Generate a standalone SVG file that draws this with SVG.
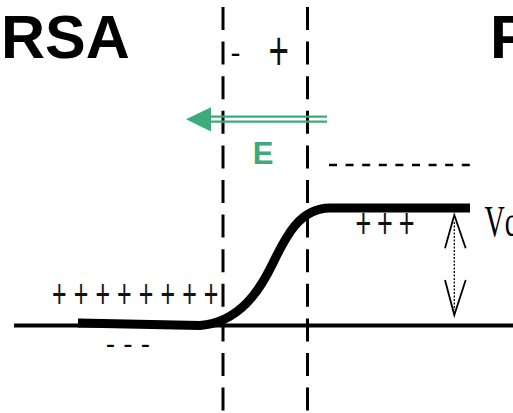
<svg xmlns="http://www.w3.org/2000/svg" width="513" height="413" viewBox="0 0 513 413">
<style>
.title{font-family:"Liberation Sans",Arial,sans-serif;font-weight:bold;font-size:61px;fill:#000}
.sign{font-family:"Liberation Sans",Arial,sans-serif;fill:#111}
.serif{font-family:"Liberation Serif","Times New Roman",serif;fill:#000}
.dash{font-family:"Liberation Sans",Arial,sans-serif;fill:#000}
.vline{stroke:#000;stroke-width:3;stroke-dasharray:23 11.6;fill:none}
.green{fill:#3caa7a}
.gline{stroke:#3caa7a;stroke-width:2.3;fill:none}
</style>
<rect width="513" height="413" fill="#fff"/>
<g id="titles">
<text class="title" x="1" y="58">RSA</text>
<text class="title" x="490" y="58">P</text>
</g>
<g id="boundaries">
<line class="vline" x1="223" y1="7" x2="223" y2="413"/>
<line class="vline" x1="307.5" y1="7" x2="307.5" y2="413"/>
</g>
<g id="top-signs">
<text class="dash" x="230.4" y="63" font-size="30">-</text>
<text class="sign" transform="translate(268.5,70.2) scale(1,1.6)" x="0" y="0" font-size="35">+</text>
</g>
<g id="field">
<line class="gline" x1="205" y1="116.7" x2="327" y2="116.7"/>
<line class="gline" x1="205" y1="121.7" x2="327" y2="121.7"/>
<polygon class="green" points="186,119.3 211,107.3 211,131.5"/>
<text class="green" x="252.7" y="164" font-family="'Liberation Sans',Arial,sans-serif" font-weight="bold" font-size="31">E</text>
</g>
<g id="potential">
<line x1="329" y1="165" x2="478" y2="165" stroke="#000" stroke-width="2.5" stroke-dasharray="8 8.6"/>
<line x1="14" y1="325.5" x2="513" y2="325.5" stroke="#000" stroke-width="4"/>
<path d="M78 323 L200 325.5 C240 322 260 290 273 263 C286 236 300 208 330 208 L470 208" fill="none" stroke="#000" stroke-width="9" stroke-linejoin="round"/>
</g>
<g id="charges">
<text class="sign" transform="translate(52,308) scale(1,1.6)" x="0" y="0" font-size="25" letter-spacing="7.1">++++++++</text>
<text class="sign" transform="translate(355.4,238) scale(1,1.6)" x="0" y="0" font-size="27" letter-spacing="5.9">+++</text>
<text class="dash" x="105.7" y="352.7" font-size="28" letter-spacing="8.2">---</text>
</g>
<g id="voltage">
<line x1="454.3" y1="222" x2="454.3" y2="310" stroke="#000" stroke-width="1.3" stroke-dasharray="2 1.5"/>
<polyline points="445,248.3 454.3,215 465.7,248.3" fill="none" stroke="#000" stroke-width="1.8"/>
<polyline points="445,280 454.3,315 465.7,280" fill="none" stroke="#000" stroke-width="1.8"/>
<text class="serif" transform="translate(484.5,236) scale(1,1.55)" x="0" y="0" font-size="28">Vc</text>
</g>
</svg>
